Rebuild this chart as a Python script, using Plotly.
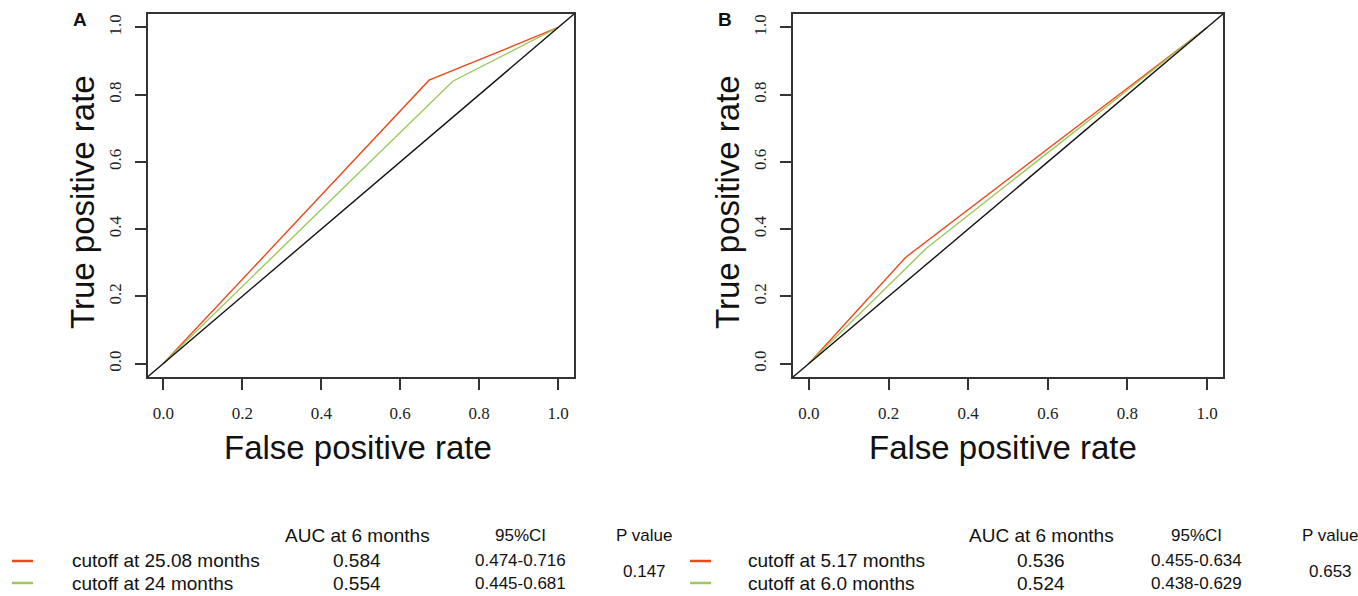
import plotly.graph_objects as go

W, H = 1358, 596

# ---- data ----
fpr_a_red = [0.0, 0.673, 1.0]
tpr_a_red = [0.0, 0.843, 1.0]
fpr_a_green = [0.0, 0.733, 1.0]
tpr_a_green = [0.0, 0.840, 1.0]

fpr_b_red = [0.0, 0.242, 1.0]
tpr_b_red = [0.0, 0.315, 1.0]
fpr_b_green = [0.0, 0.295, 1.0]
tpr_b_green = [0.0, 0.343, 1.0]

tick_vals = [0.0, 0.2, 0.4, 0.6, 0.8, 1.0]
tick_text = ["0.0", "0.2", "0.4", "0.6", "0.8", "1.0"]

labels_a = ["cutoff at 25.08 months", "cutoff at 24 months"]
auc_a = ["0.584", "0.554"]
ci_a = ["0.474-0.716", "0.445-0.681"]
p_a = "0.147"

labels_b = ["cutoff at 5.17 months", "cutoff at 6.0 months"]
auc_b = ["0.536", "0.524"]
ci_b = ["0.455-0.634", "0.438-0.629"]
p_b = "0.653"

RED = "#EB4A1F"
GREEN = "#9CC95B"
AXC = "#333333"

def px(x):
    return x / W

def py(y):
    return 1 - y / H

fig = go.Figure()

for xs, ys, c, ax in [
    (fpr_a_red, tpr_a_red, RED, ("x", "y")),
    (fpr_a_green, tpr_a_green, GREEN, ("x", "y")),
    (fpr_b_red, tpr_b_red, RED, ("x2", "y2")),
    (fpr_b_green, tpr_b_green, GREEN, ("x2", "y2")),
]:
    fig.add_trace(go.Scatter(x=xs, y=ys, mode="lines", line=dict(color=c, width=1.4),
                             xaxis=ax[0], yaxis=ax[1], showlegend=False, hoverinfo="skip"))

# diagonal reference lines across plot box
for xr, yr in [("x domain", "y domain"), ("x2 domain", "y2 domain")]:
    fig.add_shape(type="line", xref=xr, yref=yr, x0=0, y0=0, x1=1, y1=1,
                  line=dict(color="#111111", width=1.4), layer="above")

ax_common = dict(
    range=[-0.04, 1.04], showgrid=False, zeroline=False, showline=True, mirror=True,
    linecolor=AXC, linewidth=1.5, ticks="outside", ticklen=11, tickwidth=1.5, tickcolor=AXC,
    tickvals=tick_vals, ticktext=tick_text,
    tickfont=dict(family="Liberation Serif", size=17, color="#222222"),
)

yA = [py(377), py(14)]
fig.update_layout(
    width=W, height=H, margin=dict(l=0, r=0, t=0, b=0),
    paper_bgcolor="white", plot_bgcolor="white",
    xaxis=dict(domain=[px(147.5), px(574)], anchor="y", ticklabelstandoff=9, **ax_common),
    yaxis=dict(domain=yA, anchor="x", tickangle=-90, ticklabelstandoff=7, **ax_common),
    xaxis2=dict(domain=[px(793), px(1223)], anchor="y2", ticklabelstandoff=9, **ax_common),
    yaxis2=dict(domain=yA, anchor="x2", tickangle=-90, ticklabelstandoff=7, **ax_common),
)

ann = []
def text(x, y, s, size=18, family="Liberation Sans", xanchor="center", angle=0, bold=False, color="#111111"):
    if bold:
        s = "<b>" + s + "</b>"
    ann.append(dict(x=px(x), y=py(y), xref="paper", yref="paper", text=s, showarrow=False,
                    xanchor=xanchor, yanchor="middle", textangle=angle,
                    font=dict(family=family, size=size, color=color)))

# panel letters
text(80, 19, "A", size=19, bold=True)
text(725, 19, "B", size=19, bold=True)

# axis titles
text(358, 447, "False positive rate", size=33)
text(1003, 447, "False positive rate", size=33)
text(82, 202, "True positive rate", size=33, angle=-90)
text(727, 202, "True positive rate", size=33, angle=-90)

# tables
def table(x_lab, x_auc, x_ci, x_p, labels, aucs, cis, p):
    text(x_auc, 535, "AUC at 6 months", size=19)
    text(x_ci, 535, "95%CI", size=17)
    text(x_p, 535, "P value", size=17)
    for i, (lab, a, c) in enumerate(zip(labels, aucs, cis)):
        yy = 560 + i * 23
        text(x_lab, yy, lab, size=19, xanchor="left")
        text(x_auc, yy, a, size=19)
        text(x_ci, yy, c, size=17)
    text(x_p, 571, p, size=17)

table(70, 357, 520, 644, labels_a, auc_a, ci_a, p_a)
table(746, 1041, 1196, 1330, labels_b, auc_b, ci_b, p_b)

fig.update_layout(annotations=ann)

# legend dashes
for xd in (12, 690):
    for i, c in enumerate([RED, GREEN]):
        yy = 561 + i * 22
        fig.add_shape(type="line", xref="paper", yref="paper", x0=px(xd), x1=px(xd + 21),
                      y0=py(yy), y1=py(yy), line=dict(color=c, width=2.5))

fig.write_html("out.html", config={"displayModeBar": False},
               post_script="document.body.style.margin='0px';document.body.style.overflow='hidden';")
